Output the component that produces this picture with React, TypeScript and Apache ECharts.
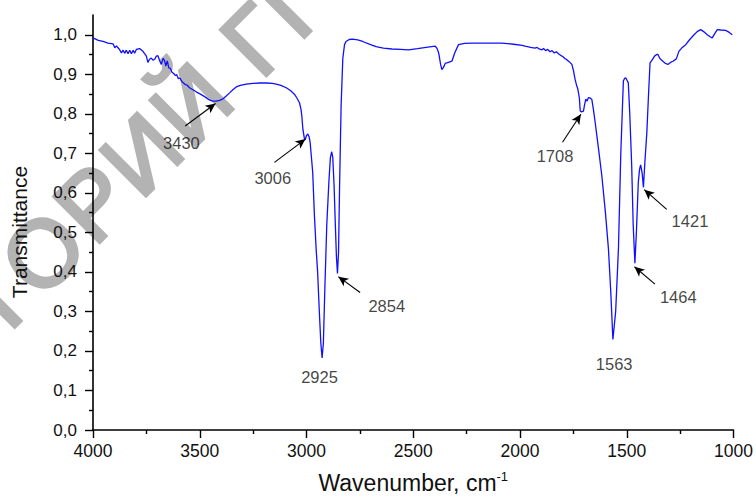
import React, { useEffect, useRef } from "react";
import * as echarts from "echarts";

// ---- Spectrum data (wavenumber, cm-1 / transmittance) ----
const wavenumbers = [
  4000, 3975, 3953, 3930, 3906, 3898, 3890, 3875, 3867, 3859, 3852, 3844, 3836, 3828, 3820, 3812, 3805, 3797,
  3782, 3766, 3750, 3743, 3735, 3727, 3719, 3711, 3703, 3696, 3688, 3680, 3672, 3665, 3659, 3652, 3645, 3638,
  3630, 3622, 3615, 3608, 3600, 3592, 3584, 3576, 3568, 3560, 3548, 3532, 3515, 3501, 3485, 3470, 3455, 3439,
  3423, 3407, 3391, 3376, 3360, 3345, 3329, 3310, 3282, 3250, 3220, 3188, 3160, 3142, 3120, 3095, 3075, 3056,
  3045, 3033, 3026, 3022, 3017, 3010, 3006, 3000, 2994, 2988, 2983, 2977, 2971, 2963, 2955, 2948, 2940, 2933,
  2927, 2921, 2914, 2905, 2895, 2888, 2882, 2877, 2871, 2865, 2860, 2855, 2850, 2845, 2838, 2830, 2822, 2815,
  2800, 2784, 2760, 2737, 2700, 2674, 2640, 2600, 2560, 2522, 2480, 2440, 2397, 2388, 2381, 2372, 2366, 2358,
  2350, 2342, 2332, 2319, 2305, 2288, 2260, 2225, 2150, 2085, 2030, 1990, 1976, 1950, 1930, 1920, 1910, 1898,
  1890, 1880, 1870, 1860, 1850, 1840, 1830, 1820, 1810, 1800, 1790, 1781, 1770, 1757, 1750, 1742, 1735, 1729,
  1722, 1718, 1712, 1703, 1698, 1692, 1686, 1680, 1672, 1664, 1656, 1648, 1632, 1617, 1600, 1586, 1575, 1565,
  1552, 1539, 1528, 1516, 1510, 1505, 1499, 1493, 1486, 1477, 1470, 1462, 1455, 1446, 1440, 1435, 1428, 1422,
  1415, 1406, 1398, 1391, 1380, 1370, 1360, 1354, 1345, 1331, 1320, 1308, 1295, 1284, 1268, 1256, 1240, 1224,
  1205, 1185, 1170, 1154, 1140, 1123, 1110, 1100, 1088, 1076, 1060, 1037, 1020, 1006,
];
const transmittance = [
  0.992, 0.986, 0.983, 0.979, 0.977, 0.967, 0.972, 0.962, 0.954, 0.961, 0.953, 0.961, 0.952, 0.961, 0.952, 0.961, 0.953, 0.963,
  0.965, 0.958, 0.946, 0.930, 0.938, 0.941, 0.936, 0.938, 0.946, 0.947, 0.935, 0.925, 0.940, 0.935, 0.921, 0.934, 0.916, 0.915,
  0.905, 0.902, 0.897, 0.899, 0.889, 0.890, 0.882, 0.878, 0.874, 0.873, 0.866, 0.861, 0.855, 0.851, 0.846, 0.841, 0.835, 0.832,
  0.832, 0.834, 0.838, 0.845, 0.853, 0.861, 0.868, 0.872, 0.875, 0.877, 0.878, 0.878, 0.877, 0.875, 0.872, 0.866, 0.859, 0.849,
  0.840, 0.828, 0.812, 0.795, 0.761, 0.738, 0.735, 0.745, 0.749, 0.742, 0.728, 0.690, 0.652, 0.543, 0.459, 0.400, 0.300, 0.220,
  0.182, 0.220, 0.360, 0.520, 0.630, 0.690, 0.704, 0.690, 0.620, 0.520, 0.440, 0.396, 0.450, 0.620, 0.820, 0.940, 0.975, 0.983,
  0.988, 0.989, 0.987, 0.983, 0.975, 0.970, 0.966, 0.964, 0.963, 0.962, 0.965, 0.968, 0.971, 0.965, 0.954, 0.925, 0.912, 0.918,
  0.928, 0.929, 0.931, 0.933, 0.955, 0.975, 0.978, 0.979, 0.979, 0.979, 0.976, 0.973, 0.971, 0.968, 0.966, 0.968, 0.964, 0.962,
  0.965, 0.960, 0.963, 0.957, 0.960, 0.954, 0.957, 0.952, 0.948, 0.945, 0.940, 0.937, 0.932, 0.925, 0.910, 0.887, 0.872, 0.862,
  0.840, 0.807, 0.805, 0.807, 0.822, 0.837, 0.832, 0.841, 0.840, 0.837, 0.810, 0.778, 0.710, 0.644, 0.550, 0.459, 0.350, 0.229,
  0.300, 0.459, 0.700, 0.883, 0.890, 0.891, 0.885, 0.879, 0.800, 0.669, 0.520, 0.422, 0.500, 0.627, 0.660, 0.671, 0.650, 0.614,
  0.680, 0.753, 0.850, 0.929, 0.937, 0.946, 0.950, 0.950, 0.940, 0.933, 0.928, 0.925, 0.930, 0.933, 0.939, 0.958, 0.968, 0.975,
  0.988, 1.000, 1.008, 1.013, 1.008, 1.000, 0.995, 0.992, 1.003, 1.013, 1.012, 1.011, 1.006, 1.000,
];

// ---- Axis ticks ----
const yMajorTicks = [0, 0.1, 0.2, 0.3, 0.4, 0.5, 0.6, 0.7, 0.8, 0.9, 1.0];
const yMinorTicks = [0.05, 0.15, 0.25, 0.35, 0.45, 0.55, 0.65, 0.75, 0.85, 0.95];

// ---- Peak annotations ----
const peakLabels = ["3430", "3006", "2925", "2854", "1708", "1563", "1464", "1421"];
const peakLabelX = [3586, 3158, 2939, 2624, 1836, 1559, 1259, 1204];
const peakLabelY = [0.726, 0.638, 0.134, 0.314, 0.694, 0.166, 0.336, 0.528];

const arrowFromX = [3568, 3150, 2749, 1801, 1368, 1313];
const arrowFromY = [0.769, 0.677, 0.348, 0.728, 0.369, 0.558];
const arrowToX = [3426, 3005, 2851, 1715, 1464, 1418];
const arrowToY = [0.826, 0.736, 0.388, 0.799, 0.413, 0.608];

// visible part of the repository watermark
const WATERMARK = "ТОРИЙ ГГ";

const FONT = '"Liberation Sans", Arial, sans-serif';

function buildWatermark() {
  const fontSize = 94;
  const spacing = 3;
  const canvas = document.createElement("canvas");
  const ctx = canvas.getContext("2d");
  const chars = Array.from(WATERMARK);
  const widths: number[] = chars.map((ch) => {
    if (ctx) {
      ctx.font = `${fontSize}px "Liberation Sans"`;
      return ctx.measureText(ch).width + spacing;
    }
    return fontSize * 0.65 + spacing;
  });
  const originIdx = chars.indexOf("Г");
  let offsets: number[] = [];
  let acc = 0;
  for (let i = 0; i < chars.length; i++) {
    offsets.push(acc);
    acc += widths[i];
  }
  const base = offsets[originIdx];
  offsets = offsets.map((o) => o - base);
  return {
    type: "group",
    x: 238,
    y: 58,
    rotation: Math.PI / 4,
    z: -10,
    silent: true,
    children: chars.map((ch, i) => ({
      type: "text",
      x: offsets[i],
      y: 0,
      z: -10,
      silent: true,
      style: {
        text: ch,
        fontSize,
        fontFamily: "Liberation Sans",
        fill: "#b3b3b3",
        stroke: "#b3b3b3",
        lineWidth: 3.5,
        align: "left",
        verticalAlign: "middle",
      },
    })),
  };
}

export default function App() {
  const ref = useRef<HTMLDivElement>(null);

  useEffect(() => {
    document.body.style.margin = "0";
    if (!ref.current) return;
    const chart = echarts.init(ref.current, null, { renderer: "svg" });

    const lineData = wavenumbers.map((w, i) => [w, transmittance[i]]);
    const labelData = peakLabels.map((t, i) => ({ name: t, value: [peakLabelX[i], peakLabelY[i]] }));
    const arrows = arrowFromX.map((x, i) => [
      { coord: [x, arrowFromY[i]] },
      { coord: [arrowToX[i], arrowToY[i]] },
    ]);

    chart.setOption({
      animation: false,
      backgroundColor: "#ffffff",
      textStyle: { fontFamily: FONT },
      grid: { left: 93, right: 21, top: 15, bottom: 66.3, containLabel: false },
      xAxis: {
        type: "value",
        min: 1000,
        max: 4000,
        interval: 500,
        inverse: true,
        name: "Wavenumber, cm{sup|-1}",
        nameLocation: "middle",
        nameGap: 40,
        nameTextStyle: {
          fontSize: 23,
          color: "#111",
          fontFamily: FONT,
          rich: { sup: { fontSize: 13, verticalAlign: "top", color: "#111", padding: [0, 0, 12, 0] } },
        },
        axisLine: { show: true, lineStyle: { color: "#000", width: 1.6 } },
        axisTick: { show: true, length: 8, lineStyle: { color: "#000", width: 1.4 } },
        minorTick: { show: true, splitNumber: 2, length: 4, lineStyle: { color: "#000", width: 1.4 } },
        axisLabel: {
          fontSize: 17.5,
          color: "#111",
          margin: 12,
          fontFamily: FONT,
          formatter: (v: number) => String(v),
        },
        splitLine: { show: false },
        minorSplitLine: { show: false },
      },
      yAxis: [
        {
          type: "value",
          min: 0,
          max: 1.05,
          interval: 0.1,
          position: "left",
          axisLine: { show: true, onZero: false, lineStyle: { color: "#000", width: 1.6 } },
          axisTick: { show: true, length: 8, customValues: yMajorTicks, lineStyle: { color: "#000", width: 1.4 } },
          axisLabel: {
            show: true,
            customValues: yMajorTicks,
            fontSize: 17,
            color: "#111",
            margin: 16,
            fontFamily: FONT,
            formatter: (v: number) => v.toFixed(1).replace(".", ","),
          },
          splitLine: { show: false },
        },
        {
          type: "value",
          min: 0,
          max: 1.05,
          position: "left",
          axisLine: { show: false },
          axisTick: { show: true, length: 4, customValues: yMinorTicks, lineStyle: { color: "#000", width: 1.4 } },
          axisLabel: { show: false },
          splitLine: { show: false },
        },
      ],
      graphic: [
        buildWatermark(),
        {
          type: "text",
          x: 19,
          y: 232,
          rotation: Math.PI / 2,
          style: {
            text: "Transmittance",
            fontSize: 21,
            fontFamily: "Liberation Sans",
            fill: "#111",
            align: "center",
            verticalAlign: "middle",
          },
        },
      ],
      series: [
        {
          type: "line",
          data: lineData,
          yAxisIndex: 0,
          showSymbol: false,
          symbol: "none",
          smooth: false,
          z: 3,
          lineStyle: { color: "#1010ff", width: 1.3 },
          emphasis: { disabled: true },
          markLine: {
            silent: true,
            symbol: ["none", "arrow"],
            symbolSize: [7, 10],
            label: { show: false },
            lineStyle: { color: "#000", width: 1.1, type: "solid" },
            emphasis: { disabled: true },
            data: arrows,
          },
        },
        {
          type: "scatter",
          data: labelData,
          yAxisIndex: 0,
          symbolSize: 1,
          itemStyle: { color: "rgba(0,0,0,0)" },
          z: 4,
          silent: true,
          label: {
            show: true,
            position: "inside",
            formatter: "{b}",
            fontSize: 16.5,
            color: "#111",
            fontFamily: FONT,
          },
          emphasis: { disabled: true },
        },
      ],
    });

    return () => chart.dispose();
  }, []);

  return <div ref={ref} style={{ width: 756, height: 499 }} />;
}
